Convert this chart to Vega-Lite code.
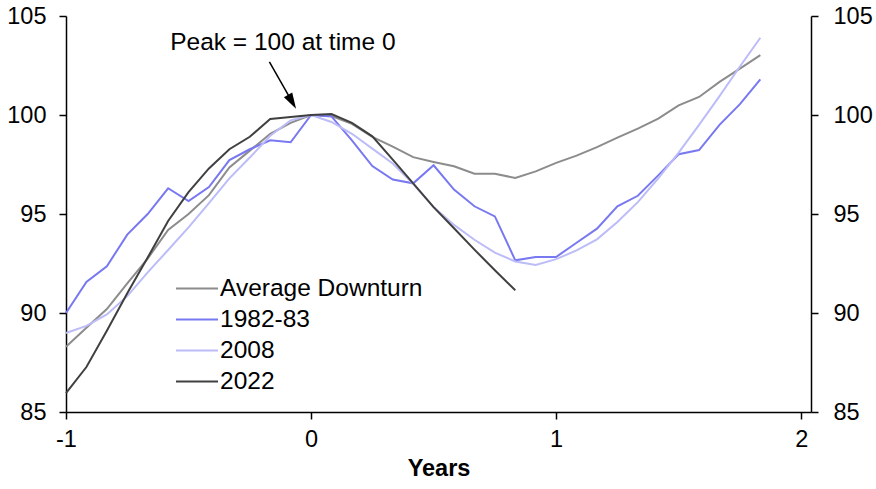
{
  "$schema": "https://vega.github.io/schema/vega-lite/v6.json",
  "width": 745,
  "height": 396,
  "autosize": {"type": "none"},
  "padding": {"left": 66, "top": 16, "right": 65, "bottom": 77},
  "background": "white",
  "config": {
    "font": "Liberation Sans",
    "view": {"stroke": null},
    "axis": {
      "grid": false,
      "domainColor": "black",
      "domainWidth": 1.5,
      "tickColor": "black",
      "tickWidth": 1.5,
      "tickSize": 7,
      "labelColor": "black",
      "labelFontSize": 23.5,
      "labelFont": "Liberation Sans",
      "titleColor": "black"
    }
  },
  "datasets": {
    "series": [
      {"t": -1, "s": "Average Downturn", "v": 88.3},
      {"t": -0.9167, "s": "Average Downturn", "v": 89.25},
      {"t": -0.8333, "s": "Average Downturn", "v": 90.2},
      {"t": -0.75, "s": "Average Downturn", "v": 91.5},
      {"t": -0.6667, "s": "Average Downturn", "v": 92.75},
      {"t": -0.5833, "s": "Average Downturn", "v": 94.2},
      {"t": -0.5, "s": "Average Downturn", "v": 95.0},
      {"t": -0.4167, "s": "Average Downturn", "v": 95.95},
      {"t": -0.3333, "s": "Average Downturn", "v": 97.35},
      {"t": -0.25, "s": "Average Downturn", "v": 98.2},
      {"t": -0.1667, "s": "Average Downturn", "v": 99.05},
      {"t": -0.0833, "s": "Average Downturn", "v": 99.6},
      {"t": 0, "s": "Average Downturn", "v": 100},
      {"t": 0.0833, "s": "Average Downturn", "v": 99.95},
      {"t": 0.1667, "s": "Average Downturn", "v": 99.55},
      {"t": 0.25, "s": "Average Downturn", "v": 98.9},
      {"t": 0.3333, "s": "Average Downturn", "v": 98.4},
      {"t": 0.4167, "s": "Average Downturn", "v": 97.87},
      {"t": 0.5, "s": "Average Downturn", "v": 97.63},
      {"t": 0.5833, "s": "Average Downturn", "v": 97.41},
      {"t": 0.6667, "s": "Average Downturn", "v": 97.03},
      {"t": 0.75, "s": "Average Downturn", "v": 97.03},
      {"t": 0.8333, "s": "Average Downturn", "v": 96.82},
      {"t": 0.9167, "s": "Average Downturn", "v": 97.15},
      {"t": 1, "s": "Average Downturn", "v": 97.58},
      {"t": 1.0833, "s": "Average Downturn", "v": 97.95},
      {"t": 1.1667, "s": "Average Downturn", "v": 98.38},
      {"t": 1.25, "s": "Average Downturn", "v": 98.86},
      {"t": 1.3333, "s": "Average Downturn", "v": 99.31},
      {"t": 1.4167, "s": "Average Downturn", "v": 99.82},
      {"t": 1.5, "s": "Average Downturn", "v": 100.49},
      {"t": 1.5833, "s": "Average Downturn", "v": 100.91},
      {"t": 1.6667, "s": "Average Downturn", "v": 101.67},
      {"t": 1.75, "s": "Average Downturn", "v": 102.34},
      {"t": 1.8333, "s": "Average Downturn", "v": 103.02},

      {"t": -1, "s": "1982-83", "v": 90.0},
      {"t": -0.9167, "s": "1982-83", "v": 91.57},
      {"t": -0.8333, "s": "1982-83", "v": 92.36},
      {"t": -0.75, "s": "1982-83", "v": 93.96},
      {"t": -0.6667, "s": "1982-83", "v": 95.0},
      {"t": -0.5833, "s": "1982-83", "v": 96.3},
      {"t": -0.5, "s": "1982-83", "v": 95.65},
      {"t": -0.4167, "s": "1982-83", "v": 96.36},
      {"t": -0.3333, "s": "1982-83", "v": 97.72},
      {"t": -0.25, "s": "1982-83", "v": 98.27},
      {"t": -0.1667, "s": "1982-83", "v": 98.72},
      {"t": -0.0833, "s": "1982-83", "v": 98.62},
      {"t": 0, "s": "1982-83", "v": 100},
      {"t": 0.0833, "s": "1982-83", "v": 99.93},
      {"t": 0.1667, "s": "1982-83", "v": 98.72},
      {"t": 0.25, "s": "1982-83", "v": 97.42},
      {"t": 0.3333, "s": "1982-83", "v": 96.74},
      {"t": 0.4167, "s": "1982-83", "v": 96.55},
      {"t": 0.5, "s": "1982-83", "v": 97.46},
      {"t": 0.5833, "s": "1982-83", "v": 96.23},
      {"t": 0.6667, "s": "1982-83", "v": 95.39},
      {"t": 0.75, "s": "1982-83", "v": 94.88},
      {"t": 0.8333, "s": "1982-83", "v": 92.66},
      {"t": 0.9167, "s": "1982-83", "v": 92.83},
      {"t": 1, "s": "1982-83", "v": 92.83},
      {"t": 1.0833, "s": "1982-83", "v": 93.55},
      {"t": 1.1667, "s": "1982-83", "v": 94.26},
      {"t": 1.25, "s": "1982-83", "v": 95.39},
      {"t": 1.3333, "s": "1982-83", "v": 95.92},
      {"t": 1.4167, "s": "1982-83", "v": 96.95},
      {"t": 1.5, "s": "1982-83", "v": 98.02},
      {"t": 1.5833, "s": "1982-83", "v": 98.23},
      {"t": 1.6667, "s": "1982-83", "v": 99.5},
      {"t": 1.75, "s": "1982-83", "v": 100.55},
      {"t": 1.8333, "s": "1982-83", "v": 101.8},

      {"t": -1, "s": "2008", "v": 88.99},
      {"t": -0.9167, "s": "2008", "v": 89.35},
      {"t": -0.8333, "s": "2008", "v": 89.93},
      {"t": -0.75, "s": "2008", "v": 90.85},
      {"t": -0.6667, "s": "2008", "v": 92.05},
      {"t": -0.5833, "s": "2008", "v": 93.18},
      {"t": -0.5, "s": "2008", "v": 94.32},
      {"t": -0.4167, "s": "2008", "v": 95.55},
      {"t": -0.3333, "s": "2008", "v": 96.8},
      {"t": -0.25, "s": "2008", "v": 97.85},
      {"t": -0.1667, "s": "2008", "v": 98.95},
      {"t": -0.0833, "s": "2008", "v": 99.73},
      {"t": 0, "s": "2008", "v": 100},
      {"t": 0.0833, "s": "2008", "v": 99.65},
      {"t": 0.1667, "s": "2008", "v": 99.05},
      {"t": 0.25, "s": "2008", "v": 98.3},
      {"t": 0.3333, "s": "2008", "v": 97.55},
      {"t": 0.4167, "s": "2008", "v": 96.52},
      {"t": 0.5, "s": "2008", "v": 95.35},
      {"t": 0.5833, "s": "2008", "v": 94.45},
      {"t": 0.6667, "s": "2008", "v": 93.7},
      {"t": 0.75, "s": "2008", "v": 93.05},
      {"t": 0.8333, "s": "2008", "v": 92.6},
      {"t": 0.9167, "s": "2008", "v": 92.43},
      {"t": 1, "s": "2008", "v": 92.72},
      {"t": 1.0833, "s": "2008", "v": 93.16},
      {"t": 1.1667, "s": "2008", "v": 93.72},
      {"t": 1.25, "s": "2008", "v": 94.6},
      {"t": 1.3333, "s": "2008", "v": 95.6},
      {"t": 1.4167, "s": "2008", "v": 96.8},
      {"t": 1.5, "s": "2008", "v": 98.1},
      {"t": 1.5833, "s": "2008", "v": 99.5},
      {"t": 1.6667, "s": "2008", "v": 100.95},
      {"t": 1.75, "s": "2008", "v": 102.45},
      {"t": 1.8333, "s": "2008", "v": 103.9},

      {"t": -1, "s": "2022", "v": 85.95},
      {"t": -0.9167, "s": "2022", "v": 87.27},
      {"t": -0.8333, "s": "2022", "v": 89.1},
      {"t": -0.75, "s": "2022", "v": 91.0},
      {"t": -0.6667, "s": "2022", "v": 92.8},
      {"t": -0.5833, "s": "2022", "v": 94.65},
      {"t": -0.5, "s": "2022", "v": 96.1},
      {"t": -0.4167, "s": "2022", "v": 97.3},
      {"t": -0.3333, "s": "2022", "v": 98.27},
      {"t": -0.25, "s": "2022", "v": 98.9},
      {"t": -0.1667, "s": "2022", "v": 99.8},
      {"t": -0.0833, "s": "2022", "v": 99.9},
      {"t": 0, "s": "2022", "v": 100},
      {"t": 0.0833, "s": "2022", "v": 100.05},
      {"t": 0.1667, "s": "2022", "v": 99.6},
      {"t": 0.25, "s": "2022", "v": 98.92},
      {"t": 0.3333, "s": "2022", "v": 97.75},
      {"t": 0.4167, "s": "2022", "v": 96.55},
      {"t": 0.5, "s": "2022", "v": 95.35},
      {"t": 0.5833, "s": "2022", "v": 94.28},
      {"t": 0.6667, "s": "2022", "v": 93.2},
      {"t": 0.75, "s": "2022", "v": 92.16},
      {"t": 0.8333, "s": "2022", "v": 91.15}
    ],
    "arrow": [{"x1": -0.170, "y1": 102.68, "x2": -0.0776, "y2": 100.67}],
    "head": [{"x": -0.0776, "y": 100.67}],
    "label": [{"x": -0.115, "y": 103.27, "text": "Peak = 100 at time 0"}]
  },
  "layer": [
    {
      "data": {"name": "series"},
      "mark": {"type": "line", "strokeWidth": 2},
      "encoding": {
        "x": {
          "field": "t", "type": "quantitative",
          "scale": {"domain": [-1, 2.04], "nice": false, "zero": false},
          "axis": {"values": [-1, 0, 1, 2], "labelExpr": "'' + datum.value", "title": "Years", "titleFontSize": 23.5, "titleFontWeight": "bold", "labelPadding": 8, "titlePadding": 6, "labelFlush": false}
        },
        "y": {
          "field": "v", "type": "quantitative",
          "scale": {"domain": [85, 105], "nice": false, "zero": false},
          "axis": {"orient": "left", "values": [85, 90, 95, 100, 105], "title": null, "labelPadding": 13, "labelFlush": false}
        },
        "color": {
          "field": "s", "type": "nominal",
          "scale": {"domain": ["Average Downturn", "1982-83", "2008", "2022"], "range": ["#8c8c8c", "#7878f0", "#bcbcf8", "#404040"]},
          "legend": {
            "title": null, "orient": "none", "legendX": 109, "legendY": 257,
            "symbolType": "stroke", "symbolSize": 1764, "symbolStrokeWidth": 2,
            "labelFontSize": 24.5, "labelColor": "black", "labelOffset": 1, "labelLimit": 0,
            "clipHeight": 31, "rowPadding": 0, "padding": 0
          }
        }
      }
    },
    {
      "data": {"name": "series"},
      "mark": {"type": "line", "opacity": 0},
      "encoding": {
        "x": {"field": "t", "type": "quantitative"},
        "y": {
          "field": "v", "type": "quantitative",
          "axis": {"orient": "right", "values": [85, 90, 95, 100, 105], "title": null, "labelPadding": 15, "labelFlush": false}
        },
        "detail": {"field": "s"}
      }
    },
    {
      "data": {"name": "arrow"},
      "mark": {"type": "rule", "color": "black", "strokeWidth": 1.5},
      "encoding": {
        "x": {"field": "x1", "type": "quantitative"},
        "y": {"field": "y1", "type": "quantitative", "axis": null},
        "x2": {"field": "x2"},
        "y2": {"field": "y2"}
      }
    },
    {
      "data": {"name": "head"},
      "mark": {"type": "point", "shape": "M0,1 L-0.6,-1 L0.6,-1 Z", "filled": true, "color": "black", "opacity": 1, "size": 256, "angle": -30},
      "encoding": {
        "x": {"field": "x", "type": "quantitative"},
        "y": {"field": "y", "type": "quantitative", "axis": null}
      }
    },
    {
      "data": {"name": "label"},
      "mark": {"type": "text", "fontSize": 24.5, "color": "black", "align": "center", "baseline": "alphabetic"},
      "encoding": {
        "x": {"field": "x", "type": "quantitative"},
        "y": {"field": "y", "type": "quantitative", "axis": null},
        "text": {"field": "text"}
      }
    }
  ],
  "resolve": {"axis": {"y": "independent"}}
}
